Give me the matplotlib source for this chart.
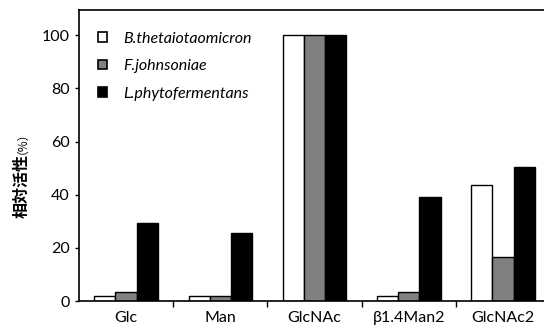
import numpy as np
import matplotlib.pyplot as plt
from matplotlib.patches import Patch

# Relative activity (%) for each substrate
categories = ["Glc", "Man", "GlcNAc", "β1.4Man2", "GlcNAc2"]
series_names = ["B.thetaiotaomicron", "F.johnsoniae", "L.phytofermentans"]
b_theta = [2.0, 2.0, 100.0, 2.0, 43.5]
f_johnsoniae = [3.4, 2.0, 100.0, 3.4, 16.7]
l_phyto = [29.4, 25.5, 100.0, 39.0, 50.4]

colors = ["white", "#808080", "black"]

plt.rcParams["font.family"] = ["Lato", "DejaVu Sans"]

fig = plt.figure(figsize=(5.44, 3.28), dpi=100)
ax = fig.add_axes([0.1452, 0.0823, 0.866, 0.887])

x = np.arange(len(categories))
width = 0.225
for i, (vals, name, col) in enumerate(zip([b_theta, f_johnsoniae, l_phyto], series_names, colors)):
    ax.bar(x + (i - 1) * width, vals, width, color=col, edgecolor="black",
           linewidth=1.0, label=name)

ax.set_xlim(-0.5, len(categories) - 0.5)
ax.set_ylim(0, 109.5)
ax.set_yticks(np.arange(0, 101, 20))
ax.set_xticks(x)
ax.set_xticklabels(categories, fontsize=11.5)
ax.tick_params(axis="x", length=0, pad=7)
ax.set_xticks(np.arange(0.5, len(categories) - 0.5, 1), minor=True)
ax.tick_params(axis="x", which="minor", length=4, width=1, direction="out")
ax.tick_params(axis="y", labelsize=11.5, length=3, width=1, direction="out")

for s in ax.spines.values():
    s.set_linewidth(1.2)

# y label: CJK characters plus a smaller (%) part
cjk = ["Noto Sans CJK JP", "DejaVu Sans"]
fig.text(0.040, (328 - 218) / 328, "相対活性", rotation=90, ha="center", va="bottom",
         family=cjk, fontsize=11.5, fontweight="bold")
fig.text(0.029, (328 - 154) / 328, "（%）", rotation=90, ha="center", va="bottom",
         family=cjk, fontsize=8.5)

handles = [Patch(facecolor=c, edgecolor="black", linewidth=1.2) for c in colors]
leg = ax.legend(handles, series_names, loc="upper left", frameon=False,
                prop={"style": "italic", "size": 11.5}, handlelength=0.55,
                handleheight=0.55, handletextpad=1.0, labelspacing=0.85,
                bbox_to_anchor=(0.01, 0.975))

fig.savefig("out.png", dpi=100)
